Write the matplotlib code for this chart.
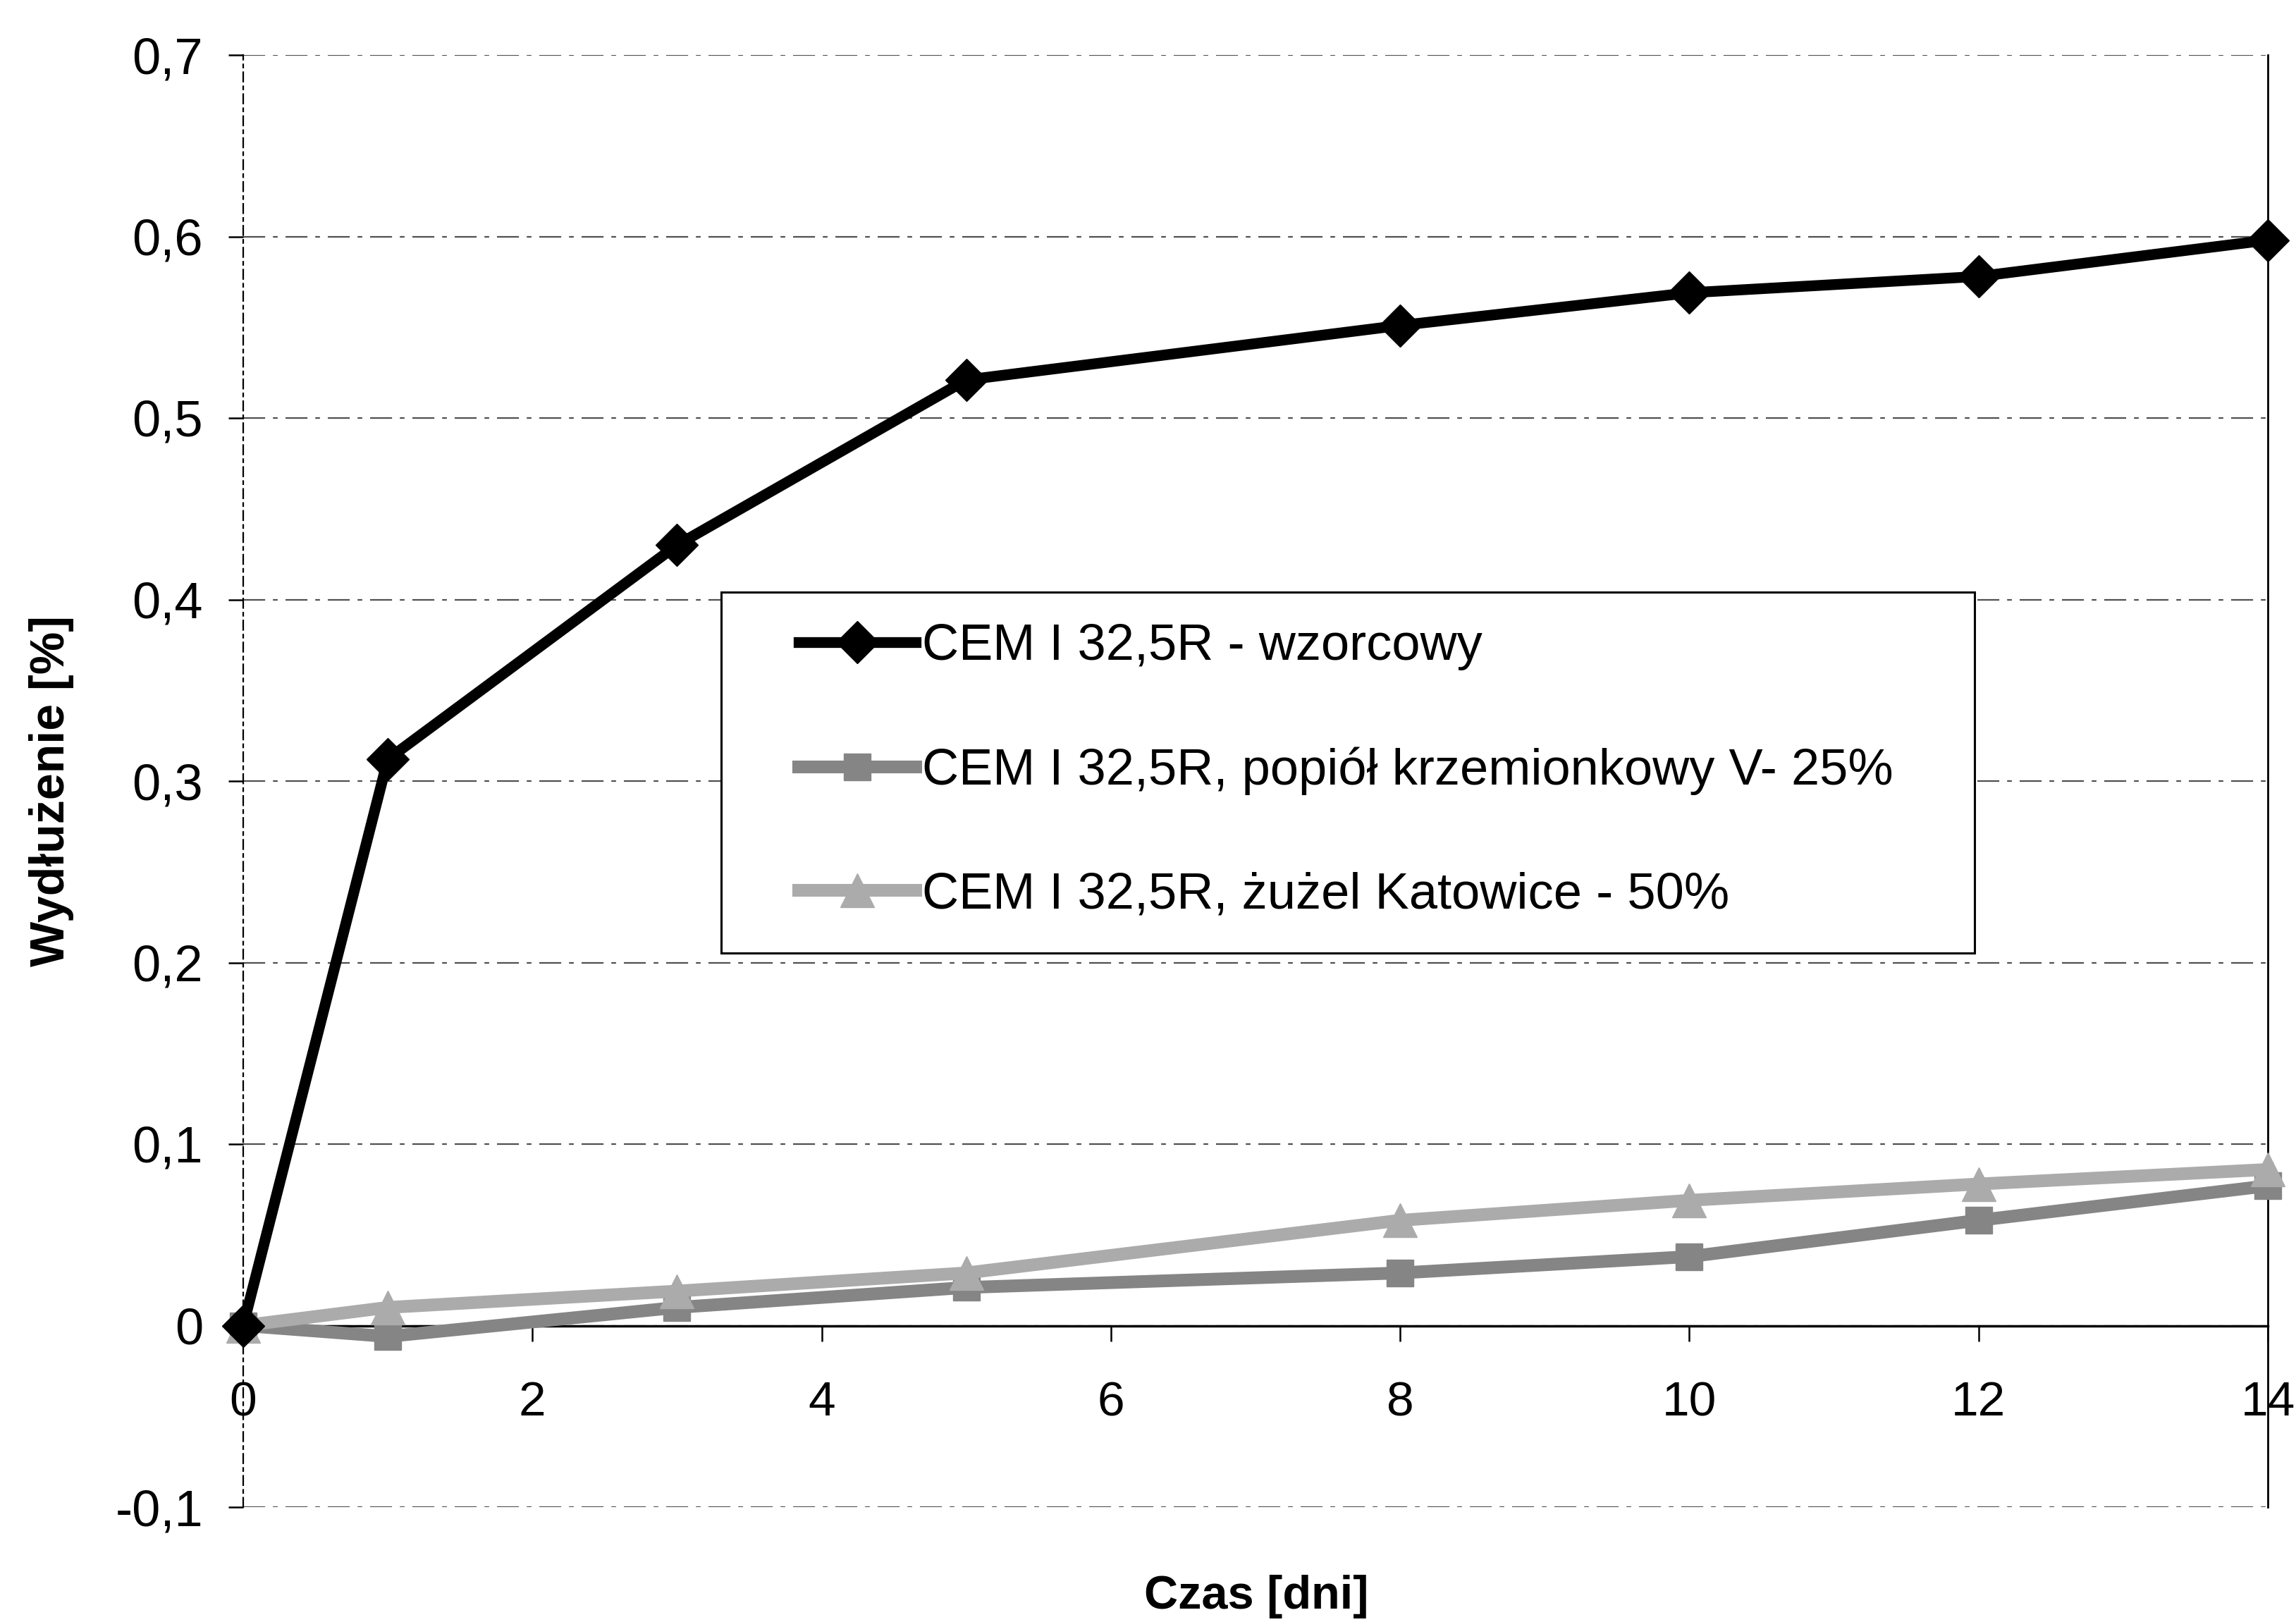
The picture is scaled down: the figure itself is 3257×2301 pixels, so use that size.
import matplotlib
matplotlib.use('Agg')
import matplotlib.pyplot as plt
from matplotlib.patches import Rectangle

plt.rcParams['font.family'] = ['Liberation Sans', 'DejaVu Sans']

# dane
czas = [0, 1, 3, 5, 8, 10, 12, 14]
wzorcowy = [0.0, 0.312, 0.430, 0.521, 0.551, 0.569, 0.578, 0.598]
popiol = [0.0, -0.006, 0.010, 0.021, 0.029, 0.038, 0.058, 0.077]
zuzel = [0.0, 0.010, 0.019, 0.029, 0.058, 0.069, 0.078, 0.086]

etykiety = ['CEM I 32,5R - wzorcowy',
            'CEM I 32,5R, popiół krzemionkowy V- 25%',
            'CEM I 32,5R, żużel Katowice - 50%']

xticks = [0, 2, 4, 6, 8, 10, 12, 14]
yticks = [-0.1, 0.0, 0.1, 0.2, 0.3, 0.4, 0.5, 0.6, 0.7]
ytick_labels = ['-0,1', '0', '0,1', '0,2', '0,3', '0,4', '0,5', '0,6', '0,7']

W, H = 3257, 2301
fig = plt.figure(figsize=(W / 100, H / 100), dpi=100)
ax = fig.add_axes([345 / W, 1 - 2138 / H, (3217 - 345) / W, (2138 - 78) / H])

ax.plot(czas, popiol, color='#858585', lw=13, marker='s', ms=28,
        mec='#858585', mfc='#858585', label=etykiety[1], zorder=3, clip_on=False)
ax.plot(czas, zuzel, color='#ababab', lw=13, marker='^', ms=34,
        mec='#ababab', mfc='#ababab', label=etykiety[2], zorder=3, clip_on=False)
ax.plot(czas, wzorcowy, color='black', lw=11, marker='D', ms=31,
        label=etykiety[0], zorder=4, clip_on=False)

ax.set_xlim(0, 14)
ax.set_ylim(-0.1, 0.7)
ax.set_xticks(xticks)
ax.set_yticks(yticks)
ax.set_yticklabels(ytick_labels)

# siatka pozioma przerywana
ax.yaxis.grid(True, color='#505050', lw=1.6, linestyle=(0, (14, 5, 3, 5)))
ax.xaxis.grid(False)
ax.set_axisbelow(True)

ax.spines['top'].set_visible(False)
ax.spines['bottom'].set_position(('data', 0))
ax.spines['bottom'].set_linewidth(2.5)
ax.spines['right'].set_linewidth(2)
ax.spines['left'].set_linewidth(1.6)
ax.spines['left'].set_linestyle((0, (6, 3, 2, 3)))

ax.tick_params(axis='x', direction='out', length=16, width=1.8, pad=40, labelsize=50)
ax.tick_params(axis='y', direction='out', length=15, width=1.8, pad=26, labelsize=52)

fig.text(1782 / W, 1 - 2265 / H, 'Czas [dni]', fontsize=48, fontweight='bold',
         ha='center', va='center')
fig.text(73 / W, 1 - 1122 / H, 'Wydłużenie [%]', fontsize=49, fontweight='bold',
         rotation=90, ha='center', va='center')

# ramka legendy (biała, zakrywa siatkę)
ramka = Rectangle((1023 / W, 1 - 1352 / H), (2801 - 1023) / W, (1352 - 840) / H,
                  transform=fig.transFigure, facecolor='white', edgecolor='black',
                  lw=2.2, zorder=6, clip_on=False)
ax.add_patch(ramka)

handles, labels = ax.get_legend_handles_labels()
order = [2, 0, 1]
leg = ax.legend([handles[i] for i in order], [labels[i] for i in order],
                loc='upper left', bbox_to_anchor=(1133 / W, 1 - 884 / H),
                bbox_transform=fig.transFigure, frameon=False, borderpad=0,
                borderaxespad=0, handlelength=2.3, handletextpad=0.12,
                labelspacing=1.5, fontsize=52, markerscale=1.0)
leg.set_zorder(10)

fig.savefig('out.png', dpi=100)
